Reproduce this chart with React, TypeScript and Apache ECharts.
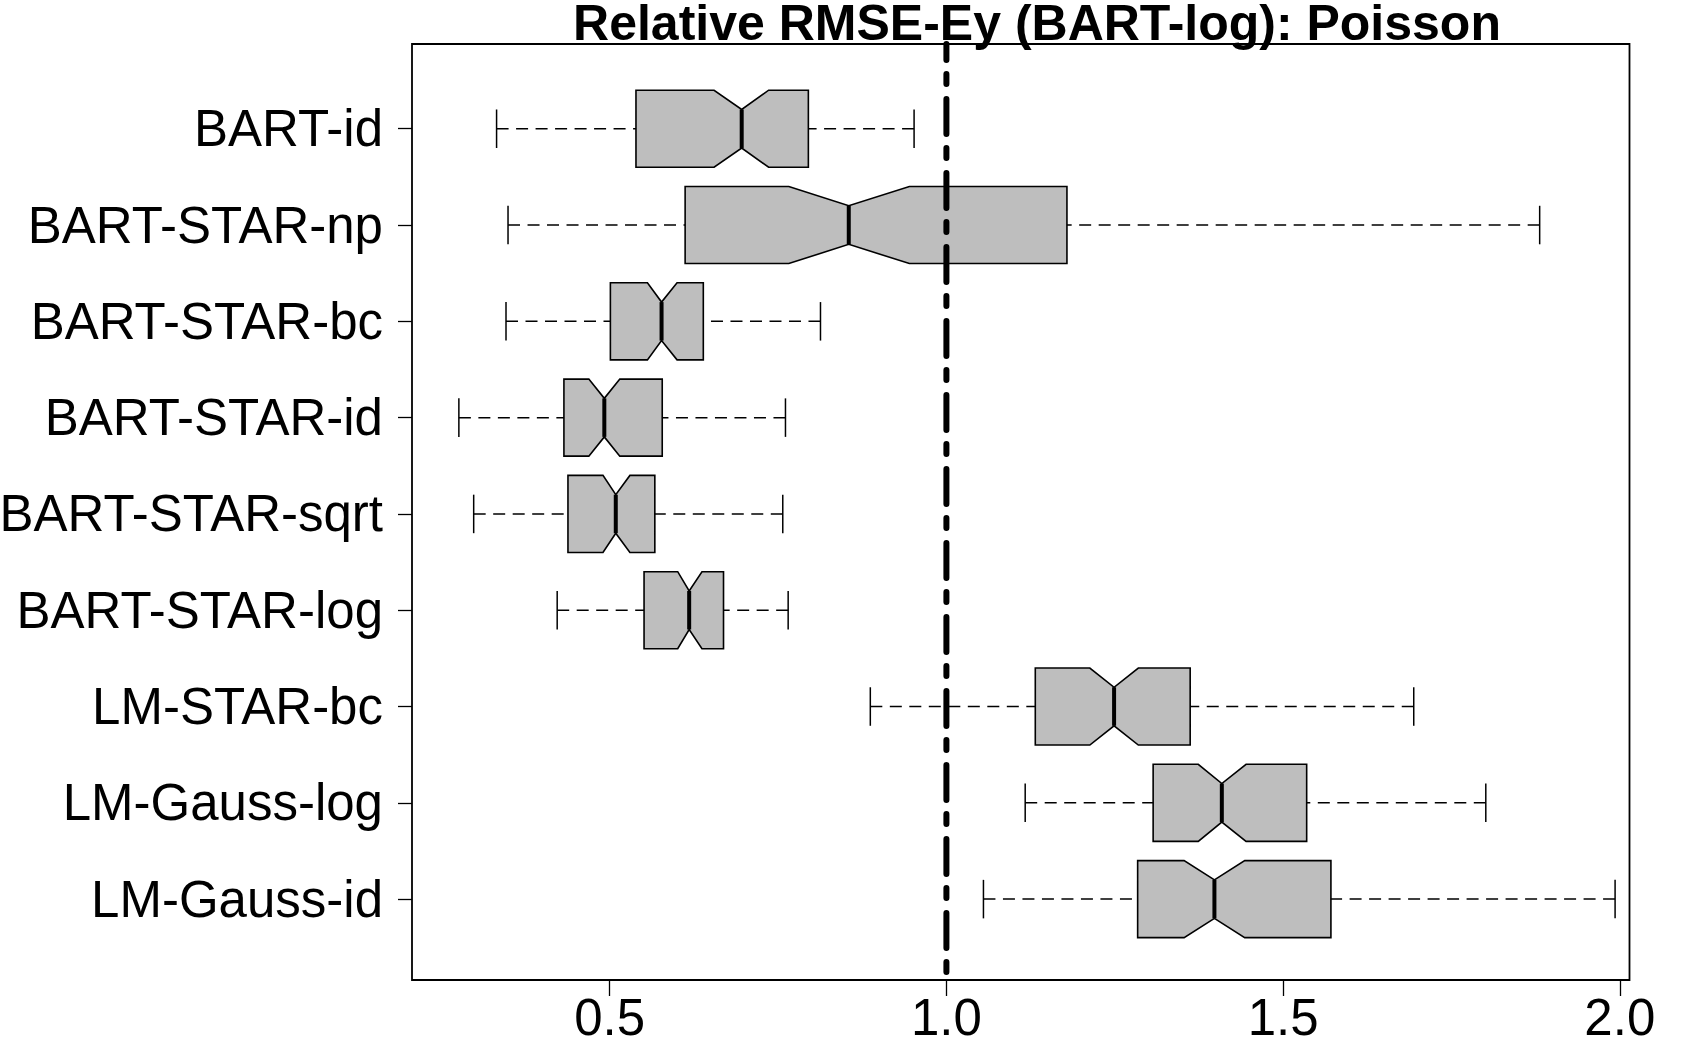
import React, { useEffect, useRef } from "react";
import * as echarts from "echarts";

// Top-to-bottom order as displayed
const categories = [
  "BART-id",
  "BART-STAR-np",
  "BART-STAR-bc",
  "BART-STAR-id",
  "BART-STAR-sqrt",
  "BART-STAR-log",
  "LM-STAR-bc",
  "LM-Gauss-log",
  "LM-Gauss-id",
];
const whiskerLow = [0.332, 0.349, 0.346, 0.276, 0.298, 0.422, 0.887, 1.117, 1.055];
const q1 = [0.539, 0.612, 0.501, 0.432, 0.438, 0.551, 1.132, 1.307, 1.284];
const notchLow = [0.655, 0.766, 0.556, 0.469, 0.49, 0.601, 1.213, 1.374, 1.353];
const median = [0.696, 0.855, 0.577, 0.492, 0.509, 0.618, 1.249, 1.409, 1.398];
const notchHigh = [0.736, 0.945, 0.6, 0.515, 0.53, 0.637, 1.285, 1.445, 1.443];
const q3 = [0.795, 1.179, 0.639, 0.578, 0.567, 0.669, 1.362, 1.535, 1.571];
const whiskerHigh = [0.952, 1.881, 0.813, 0.761, 0.757, 0.765, 1.694, 1.801, 1.993];
const xTicks = [0.5, 1.0, 1.5, 2.0];
const yTicks = [1, 2, 3, 4, 5, 6, 7, 8, 9];
const referenceValue = 1.0;
const titleText = "Relative RMSE-Ey (BART-log): Poisson";

const X_MIN = 0.2064;
const X_MAX = 2.0144;
const Y_MIN = 0.16;
const Y_MAX = 9.88;
const FONT = "'Liberation Sans', Arial, Helvetica, sans-serif";

export default function App() {
  const ref = useRef<HTMLDivElement>(null);
  useEffect(() => {
    if (!ref.current) return;
    const chart = echarts.init(ref.current, undefined, { renderer: "svg" });
    const n = categories.length;
    const boxData = categories.map((_, i) => [
      n - i,
      whiskerLow[i],
      q1[i],
      notchLow[i],
      median[i],
      notchHigh[i],
      q3[i],
      whiskerHigh[i],
    ]);

    const half = 0.4;
    const notchHalf = 0.2;
    const staple = 0.2;

    const renderBox = (params: any, api: any) => {
      const y = api.value(0);
      const wl = api.value(1);
      const a = api.value(2);
      const nl = api.value(3);
      const md = api.value(4);
      const nh = api.value(5);
      const b = api.value(6);
      const wh = api.value(7);
      const p = (x: number, dy: number) => api.coord([x, y + dy]);
      const whiskerStyle = {
        stroke: "#000",
        lineWidth: 1.5,
        lineDash: [12, 7.5],
        fill: null,
      };
      const stapleStyle = { stroke: "#000", lineWidth: 1.5, fill: null };
      const pts = [
        p(a, half),
        p(nl, half),
        p(md, notchHalf),
        p(nh, half),
        p(b, half),
        p(b, -half),
        p(nh, -half),
        p(md, -notchHalf),
        p(nl, -half),
        p(a, -half),
      ];
      const wl0 = p(wl, 0);
      const a0 = p(a, 0);
      const b0 = p(b, 0);
      const wh0 = p(wh, 0);
      const s1 = p(wl, staple);
      const s2 = p(wl, -staple);
      const s3 = p(wh, staple);
      const s4 = p(wh, -staple);
      const m1 = p(md, notchHalf);
      const m2 = p(md, -notchHalf);
      return {
        type: "group",
        children: [
          {
            type: "polygon",
            shape: { points: pts },
            style: { fill: "#BEBEBE", stroke: "#000", lineWidth: 1.6 },
          },
          {
            type: "line",
            shape: { x1: m1[0], y1: m1[1], x2: m2[0], y2: m2[1] },
            style: { stroke: "#000", lineWidth: 4, fill: null },
          },
          {
            type: "line",
            shape: { x1: wl0[0], y1: wl0[1], x2: a0[0], y2: a0[1] },
            style: whiskerStyle,
          },
          {
            type: "line",
            shape: { x1: wh0[0], y1: wh0[1], x2: b0[0], y2: b0[1] },
            style: whiskerStyle,
          },
          {
            type: "line",
            shape: { x1: s1[0], y1: s1[1], x2: s2[0], y2: s2[1] },
            style: stapleStyle,
          },
          {
            type: "line",
            shape: { x1: s3[0], y1: s3[1], x2: s4[0], y2: s4[1] },
            style: stapleStyle,
          },
        ],
      };
    };

    const renderRef = (params: any, api: any) => {
      const x = api.value(0);
      const top = api.coord([x, Y_MAX]);
      const bot = api.coord([x, Y_MIN]);
      return {
        type: "line",
        shape: { x1: top[0], y1: top[1], x2: bot[0], y2: bot[1] },
        style: {
          stroke: "#000",
          lineWidth: 6,
          lineDash: [35, 14, 10, 15],
          lineDashOffset: 19.3,
          lineCap: "round",
          fill: null,
        },
      };
    };

    chart.setOption({
      animation: false,
      backgroundColor: "#fff",
      grid: {
        left: 412,
        right: 62.5,
        top: 44,
        bottom: 78,
        containLabel: false,
        outerBoundsMode: "none",
        show: true,
        borderColor: "#000",
        borderWidth: 1.8,
        backgroundColor: "transparent",
      },
      xAxis: {
        type: "value",
        min: X_MIN,
        max: X_MAX,
        splitLine: { show: false },
        axisLine: { show: false },
        axisTick: {
          show: true,
          length: 16,
          customValues: xTicks,
          lineStyle: { color: "#000", width: 1.3 },
        },
        axisLabel: {
          customValues: xTicks,
          formatter: (v: number) => v.toFixed(1),
          fontSize: 51,
          fontFamily: FONT,
          color: "#000",
          margin: 12,
        },
      },
      yAxis: {
        type: "value",
        min: Y_MIN,
        max: Y_MAX,
        splitLine: { show: false },
        axisLine: { show: false },
        axisTick: {
          show: true,
          length: 14,
          customValues: yTicks,
          lineStyle: { color: "#000", width: 1.3 },
        },
        axisLabel: {
          customValues: yTicks,
          formatter: (v: number) => categories[categories.length - Math.round(v)] ?? "",
          fontSize: 51,
          fontFamily: FONT,
          color: "#000",
          margin: 29,
        },
      },
      graphic: [
        {
          type: "text",
          x: 1037,
          y: 23,
          style: {
            text: titleText,
            fontSize: 50,
            lineHeight: 40,
            fontWeight: "bold",
            fontFamily: FONT,
            fill: "#000",
            textAlign: "center",
            textVerticalAlign: "middle",
          },
          z: 100,
        },
      ],
      series: [
        {
          type: "custom",
          renderItem: renderBox,
          data: boxData,
          encode: { x: [1, 2, 3, 4, 5, 6, 7], y: 0 },
          clip: false,
          z: 2,
        },
        {
          type: "custom",
          renderItem: renderRef,
          data: [[referenceValue]],
          encode: { x: 0 },
          clip: false,
          z: 5,
        },
      ],
    });
    return () => chart.dispose();
  }, []);
  return (
    <div
      ref={ref}
      style={{ position: "fixed", left: 0, top: 0, width: 1692, height: 1058 }}
    />
  );
}
